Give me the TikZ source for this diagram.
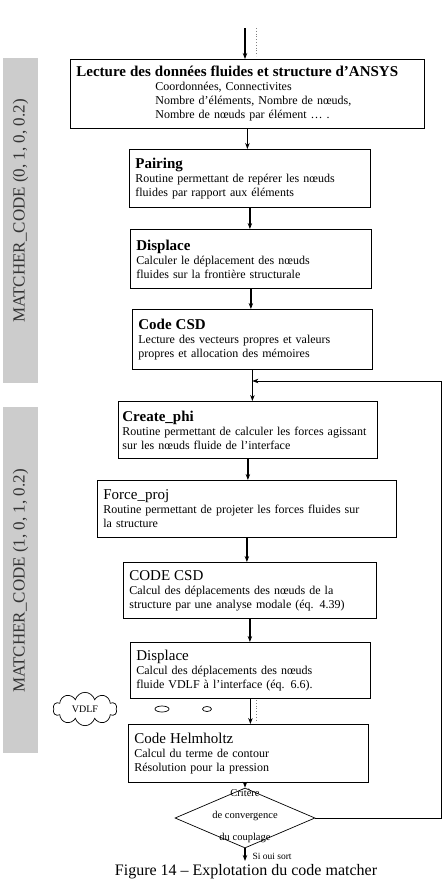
\documentclass[tikz,border=0pt]{standalone}
\usepackage{fontspec}
\setmainfont{Liberation Serif}
\usetikzlibrary{arrows.meta,shapes.geometric,shapes.symbols}

\newcommand{\btitre}[1]{{\fontsize{15}{18}\selectfont\bfseries #1}}
\newcommand{\rtitre}[1]{{\fontsize{15}{18}\selectfont #1}}

\begin{document}
\begin{tikzpicture}[x=1pt, y=-1pt, >={Stealth[length=6pt, width=4.5pt]},
        font=\fontsize{12}{14}\selectfont,
        box/.style 2 args={draw, line width=0.8pt, anchor=north west, align=left,
            inner xsep=6pt, inner ysep=1pt, text width=#1, minimum height=#2},
        flow/.style={->, line width=1.2pt},
        back/.style={->, line width=0.6pt},
        band/.style={fill=gray!40, draw=none, inner sep=0pt},
        bandtxt/.style={rotate=90, font=\fontsize{17}{19}\selectfont, black!80},
        bulle/.style={draw, ellipse, inner sep=0pt, line width=0.7pt}]
        \useasboundingbox (0,0) rectangle (444,881);
        % ---- bandes laterales ----
        \node[band, minimum width=35pt, minimum height=325pt] (m0) at (20.5,220) {};
        \node[bandtxt] (m0t) at (20.5,211) {MATCHER\_CODE (0, 1, 0, 0.2)};
        \node[band, minimum width=35pt, minimum height=346pt] (m1) at (20.5,580) {};
        \node[bandtxt] (m1t) at (20.5,581) {MATCHER\_CODE (1, 0, 1, 0.2)};
        % ---- etapes ----
        \node[box={342pt}{69pt}, inner xsep=6pt] (lect) at (70,59)
            {\btitre{Lecture des données fluides et structure d'ANSYS}\\
             \hspace*{79pt}Coordonnées, Connectivites\\
             \hspace*{79pt}Nombre d'éléments, Nombre de nœuds,\\
             \hspace*{79pt}Nombre de nœuds par élément \dots\ .};
        \node[box={229pt}{58pt}] (pair) at (129,149)
            {\btitre{Pairing}\\ Routine permettant de repérer les nœuds\\ fluides par rapport aux éléments};
        \node[box={229pt}{59pt}] (disp) at (130,229)
            {\btitre{Displace}\\ Calculer le déplacement des nœuds\\ fluides sur la frontière structurale};
        \node[box={228pt}{60pt}] (csd) at (132,309)
            {\btitre{Code CSD}\\ Lecture des vecteurs propres et valeurs\\ propres et allocation des mémoires};
        \node[box={251pt}{57pt}, inner xsep=4pt] (phi) at (118,401)
            {\btitre{Create\_phi}\\ Routine permettant de calculer les forces agissant\\ sur les nœuds fluide de l'interface};
        \node[box={287pt}{57pt}] (proj) at (97,480)
            {\rtitre{Force\_proj}\\ Routine permettant de projeter les forces fluides sur\\ la structure};
        \node[box={241pt}{56pt}] (csdb) at (123,562)
            {\rtitre{CODE CSD}\\ Calcul des déplacements des nœuds de la\\ structure par une analyse modale (éq. 4.39)};
        \node[box={228pt}{56pt}] (dispb) at (130,642)
            {\rtitre{Displace}\\ Calcul des déplacements des nœuds\\ fluide VDLF à l'interface (éq. 6.6).};
        \node[box={228pt}{58pt}] (helm) at (128,724)
            {\rtitre{Code Helmholtz}\\ Calcul du terme de contour\\ Résolution pour la pression};
        % ---- test de convergence ----
        \node[draw, diamond, line width=0.7pt, inner sep=0pt, minimum width=140pt, minimum height=60pt] (conv) at (245,818) {};
        \node[align=center, font=\fontsize{10.5}{22}\selectfont] (convt) at (245,816) {Critère\\ de convergence\\ du couplage};
        % ---- nuage VDLF ----
        \node[draw, cloud, cloud puffs=10, aspect=3.2, line width=0.7pt, minimum height=22pt,
              inner xsep=9pt, inner ysep=0pt, font=\fontsize{10}{12}\selectfont] (vdlf) at (85,709) {VDLF};
        \node[bulle, minimum width=14pt, minimum height=6pt] (b1) at (162,709) {};
        \node[bulle, minimum width=9pt, minimum height=5pt] (b2) at (207,709) {};
        % ---- fleches ----
        \coordinate (in) at (245,28);
        \coordinate (out) at (245,861);
        \coordinate (rc) at (441,381);
        \draw[flow] (in) -- (in |- lect.north);
        \foreach \a/\b in {lect/pair, pair/disp, disp/csd, csd/phi, phi/proj, proj/csdb, csdb/dispb, dispb/helm}
            \draw[flow] (\a.south) -- (\a.south |- \b.north);
        \draw[flow] (conv.north |- helm.south) -- (conv.north);
        \draw[flow] (conv.south) -- (out);
        \draw[back] (conv.east) -| (rc) -- (csd.south |- rc);
        \draw[gray, dotted, line width=0.8pt] (256,28) -- (256,56);
        \draw[gray, dotted, line width=0.8pt] (256,700) -- (256,722);
        % ---- textes ----
        \node[anchor=west, font=\fontsize{9.5}{11}\selectfont] (sortie) at (249,856) {Si oui sort};
        \node[font=\fontsize{16}{18}\selectfont, inner sep=1pt] (legende) at (246,872) {Figure 14 – Explotation du code matcher};
\end{tikzpicture}
\end{document}
